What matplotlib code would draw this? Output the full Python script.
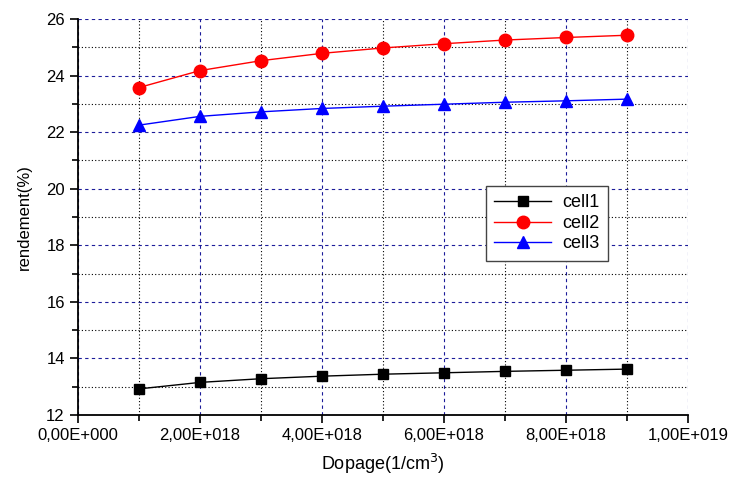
import matplotlib
matplotlib.use("Agg")
import matplotlib.pyplot as plt
from matplotlib.ticker import MultipleLocator, FuncFormatter

plt.rcParams["font.family"] = ["Liberation Sans", "DejaVu Sans"]

dopage = [1e18, 2e18, 3e18, 4e18, 5e18, 6e18, 7e18, 8e18, 9e18]
cell1 = [12.92, 13.15, 13.28, 13.37, 13.44, 13.49, 13.54, 13.58, 13.62]
cell2 = [23.58, 24.18, 24.53, 24.79, 24.98, 25.13, 25.26, 25.35, 25.43]
cell3 = [22.25, 22.56, 22.72, 22.84, 22.92, 22.99, 23.06, 23.11, 23.17]


def sci_fmt(v, pos):
    if v == 0:
        return "0,00E+000"
    s = f"{v:.2E}"
    mant, exp = s.split("E")
    return f"{mant.replace('.', ',')}E{int(exp):+04d}"


fig = plt.figure(figsize=(7.32, 4.78), dpi=100)
ax = fig.add_axes([0.1066, 0.132, 0.8334, 0.828])

ax.plot(dopage, cell1, color="black", marker="s", markersize=7.5, lw=1, label="cell1")
ax.plot(dopage, cell2, color="red", marker="o", markersize=9, lw=1, label="cell2")
ax.plot(dopage, cell3, color="blue", marker="^", markersize=9, lw=1, label="cell3")

ax.set_xlim(0, 1e19)
ax.set_ylim(12, 26)
ax.xaxis.set_major_locator(MultipleLocator(2e18))
ax.xaxis.set_minor_locator(MultipleLocator(1e18))
ax.yaxis.set_major_locator(MultipleLocator(2))
ax.yaxis.set_minor_locator(MultipleLocator(1))
ax.xaxis.set_major_formatter(FuncFormatter(sci_fmt))

ax.grid(which="major", color="#1c1c9a", linestyle=(0, (3, 3)), lw=0.8)
ax.grid(which="minor", color="black", linestyle=(0, (1, 2)), lw=0.8)
ax.set_axisbelow(True)

for side in ["top", "right"]:
    ax.spines[side].set_visible(False)
ax.spines["left"].set_linewidth(1.3)
ax.spines["bottom"].set_linewidth(1.3)
ax.tick_params(which="major", direction="out", length=6, width=1.2, labelsize=12)
ax.tick_params(which="minor", direction="out", length=4, width=1.2)

ax.set_xlabel("Dopage(1/cm$^3$)", fontsize=13, labelpad=6)
ax.set_ylabel("rendement(%)", fontsize=12, labelpad=10)

leg = ax.legend(loc="upper left", bbox_to_anchor=(0.668, 0.578), fontsize=13,
                fancybox=False, framealpha=1, edgecolor="#444444",
                handlelength=3.2, handletextpad=0.6, borderpad=0.45,
                labelspacing=0.2, borderaxespad=0)
leg.get_frame().set_linewidth(1)

fig.savefig("out.png", dpi=100)
